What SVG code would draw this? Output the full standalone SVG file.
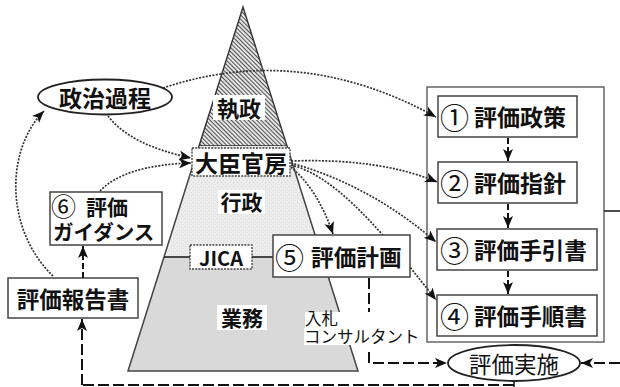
<svg xmlns="http://www.w3.org/2000/svg" width="620" height="387" viewBox="0 0 620 387">
<defs>
<style>
.t{font-family:"Noto Sans CJK JP","Noto Sans",sans-serif;font-weight:bold;fill:#111;dominant-baseline:central}
.tl{font-family:"Liberation Sans","Noto Sans CJK JP",sans-serif;font-weight:bold;fill:#111}
.tn{font-family:"Noto Sans CJK JP","Noto Sans",sans-serif;font-weight:normal;fill:#111;dominant-baseline:central}
.tln{font-family:"Liberation Sans","Noto Sans CJK JP",sans-serif;font-weight:normal;fill:#111}
.c{font-family:"Noto Sans CJK JP","DejaVu Sans",sans-serif;font-weight:normal;fill:#111;dominant-baseline:central;font-size:29px}
.box{fill:#fff;stroke:#444;stroke-width:1.5}
.dbox{fill:#fff;stroke:#444;stroke-width:1.4;stroke-dasharray:2 1.2}
.dot{fill:none;stroke:#333;stroke-width:1.7;stroke-dasharray:2 1.4}
.dash{fill:none;stroke:#111;stroke-width:2;stroke-dasharray:11 4}
.sdash{fill:none;stroke:#111;stroke-width:2;stroke-dasharray:6 3}
.solid{fill:none;stroke:#222;stroke-width:1.6}
</style>
<pattern id="hatch" width="3" height="3" patternUnits="userSpaceOnUse" patternTransform="rotate(-45)">
<rect width="3" height="3" fill="#e4e4e4"/>
<line x1="0" y1="0" x2="0" y2="3" stroke="#2a2a2a" stroke-width="1.6"/>
</pattern>
<pattern id="speck" width="4" height="4" patternUnits="userSpaceOnUse">
<rect width="4" height="4" fill="#ececec"/>
<rect x="1" y="2" width="1" height="1" fill="#d8d8d8"/>
<rect x="3" y="0" width="1" height="1" fill="#dedede"/>
</pattern>
<marker id="ah" viewBox="0 0 12 10" refX="12" refY="5" markerWidth="12" markerHeight="10" orient="auto" markerUnits="userSpaceOnUse">
<path d="M0,0 L12,5 L0,10 L3,5 z" fill="#111"/>
</marker>
</defs>
<rect width="620" height="387" fill="#fff"/>

<g id="pyramid">
<polygon points="243,7 199,146 287,146" fill="url(#hatch)" stroke="#333" stroke-width="1.4"/>
<polygon points="199,146 287,146 322,257 164,257" fill="url(#speck)"/>
<polygon points="164,257 322,257 358,371 128,371" fill="#d9d9d9"/>
<polyline points="199,146 164,257 128,371 358,371 322,257 287,146" fill="none" stroke="#444" stroke-width="1.5"/>
<rect x="213" y="95" width="52" height="25" fill="#fff"/>
<text class="t" x="239" y="107" font-size="22" text-anchor="middle">執政</text>
<rect x="218" y="190" width="47" height="24" fill="#fff"/>
<text class="t" x="241.5" y="201" font-size="21" text-anchor="middle">行政</text>
<rect x="217" y="305" width="50" height="25" fill="#fff"/>
<text class="t" x="242" y="317" font-size="21" text-anchor="middle">業務</text>
</g>

<g id="n-seiji">
<ellipse cx="105" cy="97" rx="67" ry="17.5" fill="#fff" stroke="#222" stroke-width="1.8"/>
<text class="t" x="105" y="97" font-size="23" text-anchor="middle">政治過程</text>
</g>

<g id="n-daijin">
<rect class="dbox" x="192" y="148" width="98" height="28"/>
<text class="t" x="241" y="162" font-size="23" text-anchor="middle">大臣官房</text>
</g>

<g id="n-jica">
<rect class="dbox" x="190" y="245" width="62" height="24"/>
<text class="t" x="221" y="257" font-size="20" text-anchor="middle" font-family="Liberation Sans">JICA</text>
</g>

<g id="n-guidance">
<rect class="box" x="50" y="192" width="112" height="53"/>
<text class="tln" x="51" y="216" font-size="25">⑥</text>
<text class="tl" x="86" y="215" font-size="21">評価</text>
<text class="tl" x="53" y="240" font-size="20.5">ガイダンス</text>
</g>

<g id="n-houkoku">
<rect class="box" x="8" y="278" width="130" height="40"/>
<text class="t" x="73" y="298" font-size="22.5" text-anchor="middle">評価報告書</text>
</g>

<g id="n-group">
<rect x="427" y="87" width="177" height="255" fill="#fff" stroke="#666" stroke-width="1.5"/>
</g>
<g id="n-1">
<rect class="box" x="438" y="96" width="139" height="41"/>
<text class="c" x="440" y="116">①</text>
<text class="t" x="474" y="116" font-size="23">評価政策</text>
</g>
<g id="n-2">
<rect class="box" x="438" y="162" width="139" height="41"/>
<text class="c" x="440" y="182">②</text>
<text class="t" x="474" y="182" font-size="23">評価指針</text>
</g>
<g id="n-3">
<rect class="box" x="437" y="229" width="160" height="41"/>
<text class="c" x="440" y="249">③</text>
<text class="t" x="474" y="249" font-size="22.6">評価手引書</text>
</g>
<g id="n-4">
<rect class="box" x="437" y="295" width="160" height="41"/>
<text class="c" x="440" y="315">④</text>
<text class="t" x="474" y="315" font-size="22.6">評価手順書</text>
</g>

<g id="n-jisshi">
<ellipse cx="514" cy="363" rx="66" ry="18" fill="#fff" stroke="#222" stroke-width="1.8"/>
<text class="tn" x="514" y="363" font-size="22.5" text-anchor="middle">評価実施</text>
</g>

<g id="n-consultant">
<rect x="305" y="312" width="41" height="16" fill="#fff"/>
<rect x="304" y="328" width="120" height="17" fill="#fff"/>
<text class="tln" x="305" y="325" font-size="16.5">入札</text>
<text class="tln" x="304" y="343" font-size="16.5">コンサルタント</text>
</g>

<g id="connectors">
<path class="dot" d="M163,88 Q300,42 436,117" marker-end="url(#ah)"/>
<path class="dot" d="M108,116 Q130,145 191,158" marker-end="url(#ah)"/>
<path class="dot" d="M100,191 Q125,165 191,163" marker-end="url(#ah)"/>
<path class="dot" d="M53,276 C5,230 5,150 44,111" marker-end="url(#ah)"/>
<path class="dot" d="M291,161 Q380,158 437,182" marker-end="url(#ah)"/>
<path class="dot" d="M291,163 Q370,185 436,242" marker-end="url(#ah)"/>
<path class="dot" d="M291,165 C330,175 370,215 436,300" marker-end="url(#ah)"/>
<path class="dot" d="M291,167 Q318,190 333,234" marker-end="url(#ah)"/>
<line class="solid" x1="164" y1="257" x2="190" y2="257"/>
<line class="solid" x1="252" y1="257" x2="273" y2="257"/>
<line class="sdash" x1="508" y1="138" x2="508" y2="161" marker-end="url(#ah)"/>
<line class="sdash" x1="508" y1="204" x2="508" y2="228" marker-end="url(#ah)"/>
<line class="sdash" x1="508" y1="271" x2="508" y2="294" marker-end="url(#ah)"/>
<line class="sdash" x1="83" y1="278" x2="83" y2="246" marker-end="url(#ah)"/>
<line class="dash" x1="369" y1="278" x2="369" y2="312"/>
<path class="dash" d="M369,352 L369,363 L447,363" marker-end="url(#ah)"/>
<line class="solid" x1="604" y1="211" x2="620" y2="211"/>
<line class="dash" x1="620" y1="363" x2="581" y2="363" marker-end="url(#ah)"/>
<line class="solid" x1="514" y1="381" x2="514" y2="387"/>
<line class="dash" x1="514" y1="385" x2="82" y2="385"/>
<line class="dash" x1="82" y1="385" x2="82" y2="319" marker-end="url(#ah)"/>
</g>

<g id="n-keikaku">
<rect class="box" x="273" y="235" width="137" height="42"/>
<text class="c" x="275" y="256">⑤</text>
<text class="t" x="311" y="256" font-size="22.7">評価計画</text>
</g>
</svg>
